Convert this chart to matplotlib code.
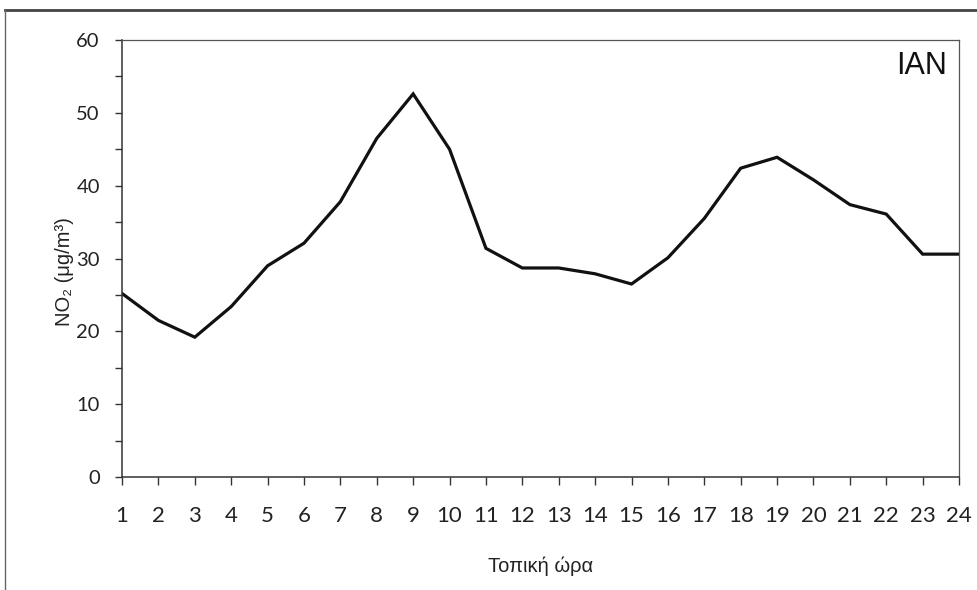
import matplotlib
matplotlib.use("Agg")
import matplotlib.pyplot as plt
from matplotlib.lines import Line2D
from matplotlib.ticker import MultipleLocator

hours = list(range(1, 25))
no2 = [25.2, 21.5, 19.2, 23.4, 29.0, 32.1, 37.8, 46.5, 52.6, 45.0,
       31.4, 28.7, 28.7, 27.9, 26.5, 30.1, 35.5, 42.4, 43.9, 40.8,
       37.4, 36.1, 30.6, 30.6]
yticks = [0, 10, 20, 30, 40, 50, 60]
panel_label = "IAN"
xlabel = "Τοπική ώρα"
ylabel = "NO₂ (μg/m³)"

fig = plt.figure(figsize=(9.77, 5.90), dpi=100)
fig.patch.set_facecolor("white")
ax = fig.add_axes([0.1249, 0.1915, 0.8567, 0.7407])

ax.plot(hours, no2, color="#111111", lw=2.3, solid_joinstyle="miter")
ax.set_xlim(1, 24)
ax.set_ylim(0, 60)
ax.set_xticks(hours)
ax.set_yticks(yticks)
ax.yaxis.set_minor_locator(MultipleLocator(5))

tick_font = ["Lato", "DejaVu Sans"]
for lab in ax.get_xticklabels():
    lab.set_family(tick_font)
    lab.set_fontsize(16)
    lab.set_color("#222222")
for lab in ax.get_yticklabels():
    lab.set_family(tick_font)
    lab.set_fontsize(14.5)
    lab.set_color("#222222")

ax.tick_params(axis="x", which="major", direction="out", length=6, width=1.0,
               pad=15, color="#333333")
ax.tick_params(axis="y", which="both", direction="out", length=5, width=1.0,
               pad=11, color="#333333")

for side in ["left", "bottom"]:
    ax.spines[side].set_color("#333333")
    ax.spines[side].set_linewidth(1.1)
for side in ["top", "right"]:
    ax.spines[side].set_color("#555555")
    ax.spines[side].set_linewidth(0.9)

ax.set_xlabel(xlabel, family=["Liberation Sans", "DejaVu Sans"], fontsize=14.5,
              labelpad=22, color="#222222")
ax.set_ylabel(ylabel, family=["Liberation Sans", "DejaVu Sans"], fontsize=14.5,
              color="#222222")
ax.yaxis.set_label_coords(-0.057, 0.47)

ax.text(0.986, 0.975, panel_label, transform=ax.transAxes, ha="right", va="top",
        family=["Liberation Sans", "DejaVu Sans"], fontsize=22, color="#111111")

# outer frame lines (top and left)
fig.add_artist(Line2D([5/977, 1.0], [1 - 10/590, 1 - 10/590], transform=fig.transFigure,
                      color="#444444", lw=2.0))
fig.add_artist(Line2D([5/977, 5/977], [0.0, 1 - 10/590], transform=fig.transFigure,
                      color="#666666", lw=1.0))

fig.savefig("out.png", dpi=100, facecolor="white")
